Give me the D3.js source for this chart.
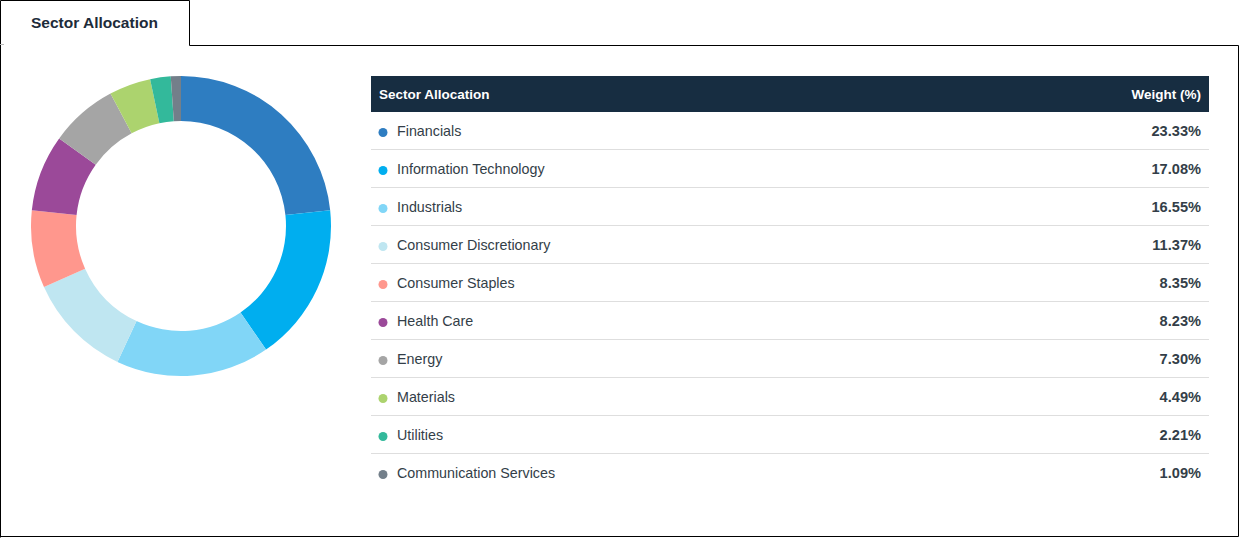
<!DOCTYPE html>
<html><head><meta charset="utf-8">
<script src="https://cdn.jsdelivr.net/npm/d3@7"></script>
<style>
html,body{margin:0;padding:0;background:#fff;}
svg{display:block;font-family:"Liberation Sans",Arial,sans-serif;}
</style></head>
<body>
<svg id="c" width="1240" height="538"></svg>
<script>
const sectors = ["Financials","Information Technology","Industrials","Consumer Discretionary","Consumer Staples","Health Care","Energy","Materials","Utilities","Communication Services"];
const weights = [23.33,17.08,16.55,11.37,8.35,8.23,7.30,4.49,2.21,1.09];
const colors = ["#2e7dc1","#00aeef","#81d6f7","#bfe6f1","#ff978d","#9b4999","#a5a5a5","#acd36e","#33b99b","#737f8a"];
const title = "Sector Allocation";
const headers = ["Sector Allocation","Weight (%)"];

const data = sectors.map((s,i)=>({name:s,value:weights[i],color:colors[i]}));
const svg = d3.select("#c");
const textCol = "#333e48";

// frame and tab
svg.append("path")
  .attr("d","M0.5,537.5 V0.5 H189.5 V45.5 H1238.5 V536.5 H0.5")
  .attr("fill","none").attr("stroke","#000").attr("stroke-width",1);
svg.append("line").attr("x1",0).attr("x2",4).attr("y1",44.5).attr("y2",44.5).attr("stroke","#bbb");
svg.append("text").attr("x",31).attr("y",28).attr("font-size",15.5).attr("font-weight","bold")
  .attr("fill","#1d2b3a").text(title);

// donut
const pie = d3.pie().value(d=>d.value).sort(null);
const arc = d3.arc().innerRadius(105).outerRadius(150);
svg.append("g").attr("transform","translate(181,226)")
  .selectAll("path").data(pie(data)).join("path")
  .attr("d",arc).attr("fill",d=>d.data.color);

// table
const x0 = 371, x1 = 1209, headTop = 76, headH = 36, rowH = 38;
const y = d3.scaleBand().domain(sectors).range([headTop+headH, headTop+headH+rowH*sectors.length]);
svg.append("rect").attr("x",x0).attr("y",headTop).attr("width",x1-x0).attr("height",headH).attr("fill","#172d41");
svg.append("text").attr("x",379).attr("y",headTop+23).attr("font-size",13.5).attr("font-weight","bold").attr("fill","#fff").text(headers[0]);
svg.append("text").attr("x",1201).attr("y",headTop+23).attr("text-anchor","end").attr("font-size",13.5).attr("font-weight","bold").attr("fill","#fff").text(headers[1]);

const rows = svg.append("g").selectAll("g").data(data).join("g")
  .attr("transform",d=>`translate(0,${y(d.name)})`);
rows.filter((d,i)=>i<data.length-1).append("line")
  .attr("x1",x0).attr("x2",x1).attr("y1",rowH-0.5).attr("y2",rowH-0.5)
  .attr("stroke","#dedede").attr("stroke-width",1);
rows.append("circle").attr("cx",383).attr("cy",rowH/2+1.5).attr("r",4.5).attr("fill",d=>d.color);
rows.append("text").attr("x",397).attr("y",rowH/2+5).attr("font-size",14.3).attr("fill",textCol).text(d=>d.name);
rows.append("text").attr("x",1201).attr("y",rowH/2+5).attr("text-anchor","end").attr("font-size",14.6)
  .attr("font-weight","bold").attr("fill",textCol).text(d=>d.value.toFixed(2)+"%");
</script>
</body></html>
